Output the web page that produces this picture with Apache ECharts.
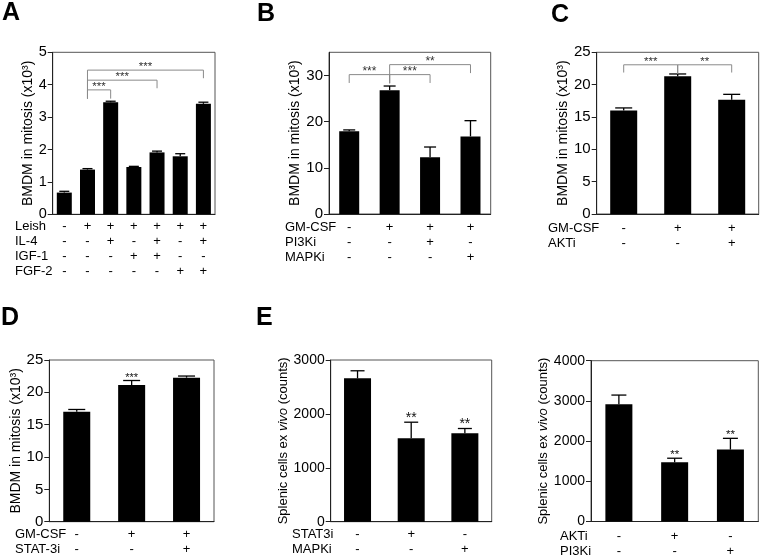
<!DOCTYPE html>
<html><head><meta charset="utf-8">
<script src="https://cdn.jsdelivr.net/npm/echarts@6/dist/echarts.min.js"></script>
<style>html,body{margin:0;padding:0;background:#fff}#c{width:760px;height:559px}</style>
</head><body><div id="c"></div>
<script>
// ---------- Panel A ----------
const rowsA = ['Leish', 'IL-4', 'IGF-1', 'FGF-2'];
const signsA = [
  ['-', '+', '+', '+', '+', '+', '+'],
  ['-', '-', '+', '-', '+', '-', '+'],
  ['-', '-', '-', '+', '+', '-', '-'],
  ['-', '-', '-', '-', '-', '+', '+']
];
const valuesA = [0.67, 1.38, 3.46, 1.46, 1.91, 1.79, 3.41];
const errorsA = [0.04, 0.03, 0.03, 0.02, 0.04, 0.08, 0.05];
const yTicksA = [0, 1, 2, 3, 4, 5];
const bracketsA = [[1, 2, 3.84, 3.57, 3.57], [1, 4, 4.14, 3.57, 3.89], [1, 6, 4.45, 3.57, 4.2]];
const bracketStarsA = ['***', '***', '***'];

// ---------- Panel B ----------
const rowsB = ['GM-CSF', 'PI3Ki', 'MAPKi'];
const signsB = [
  ['-', '+', '+', '+'],
  ['-', '-', '+', '-'],
  ['-', '-', '-', '+']
];
const valuesB = [17.9, 26.8, 12.3, 16.8];
const errorsB = [0.3, 0.9, 2.2, 3.4];
const yTicksB = [0, 10, 20, 30];
const yMaxB = 35;
const bracketsB = [[0, 1, 30.17, 28.36, 28.3], [1, 2, 30.17, 28.3, 28.36], [1, 3, 32.33, 28.3, 30.5]];
const bracketStarsB = ['***', '***', '**'];

// ---------- Panel C ----------
const rowsC = ['GM-CSF', 'AKTi'];
const signsC = [
  ['-', '+', '+'],
  ['-', '-', '+']
];
const valuesC = [16.0, 21.3, 17.65];
const errorsC = [0.4, 0.35, 0.85];
const yTicksC = [0, 5, 10, 15, 20, 25];
const bracketsC = [[0, 1, 23.07, 21.87, 21.67], [1, 2, 23.07, 21.67, 21.87]];
const bracketStarsC = ['***', '**'];

// ---------- Panel D ----------
const rowsD = ['GM-CSF', 'STAT-3i'];
const signsD = [
  ['-', '+', '+'],
  ['-', '-', '+']
];
const valuesD = [17.0, 21.13, 22.27];
const errorsD = [0.35, 0.7, 0.25];
const yTicksD = [0, 5, 10, 15, 20, 25];
const starsD = ['', '***', ''];

// ---------- Panel E (left) ----------
const rowsE1 = ['STAT3i', 'MAPKi'];
const signsE1 = [
  ['-', '+', '-'],
  ['-', '-', '+']
];
const valuesE1 = [2660, 1546, 1639];
const errorsE1 = [140, 300, 90];
const yTicksE1 = [0, 1000, 2000, 3000];
const starsE1 = ['', '**', '**'];

// ---------- Panel E (right) ----------
const rowsE2 = ['AKTi', 'PI3Ki'];
const signsE2 = [
  ['-', '+', '-'],
  ['-', '-', '+']
];
const valuesE2 = [2915, 1474, 1789];
const errorsE2 = [230, 100, 280];
const yTicksE2 = [0, 1000, 2000, 3000, 4000];
const starsE2 = ['', '**', '**'];

const nameBMDM = 'BMDM in mitosis (x10\u00B3)';
const nameSplenic = '{n|Splenic cells ex }{i|vivo}{n| (counts)}';

// ---------- layout (positions / styles) ----------
const FONT = '"Liberation Sans", Arial, Helvetica, sans-serif';
const panels = [
  { letter: 'A', lx: 2, ly: 13, grid: { left: 52.7, top: 52.3, width: 162.3, height: 162 },
    rows: rowsA, signs: signsA, values: valuesA, errors: errorsA, ticks: yTicksA,
    brackets: bracketsA, bracketStars: bracketStarsA, name: nameBMDM,
    barWidth: 15, cap: 10, nameGap: 15, nameSize: 14, tickSize: 14.5, rowX: 15, labelMargin: 5, starFont: 11.5 },
  { letter: 'B', lx: 257, ly: 14.5, grid: { left: 329, top: 52.3, width: 161.7, height: 161.7 },
    rows: rowsB, signs: signsB, values: valuesB, errors: errorsB, ticks: yTicksB, max: yMaxB,
    brackets: bracketsB, bracketStars: bracketStarsB, name: nameBMDM,
    barWidth: 20, cap: 12, nameGap: 25, nameSize: 14, tickSize: 15, rowX: 285, labelMargin: 6, starFont: 12 },
  { letter: 'C', lx: 551, ly: 15, grid: { left: 596.7, top: 52.3, width: 162, height: 161.7 },
    rows: rowsC, signs: signsC, values: valuesC, errors: errorsC, ticks: yTicksC,
    brackets: bracketsC, bracketStars: bracketStarsC, name: nameBMDM,
    barWidth: 27, cap: 17, nameGap: 25.5, nameSize: 14, tickSize: 15, rowX: 548, labelMargin: 6.5, starFont: 11.5 },
  { letter: 'D', lx: 1, ly: 318.5, grid: { left: 49.3, top: 360, width: 164.7, height: 161.7 },
    rows: rowsD, signs: signsD, values: valuesD, errors: errorsD, ticks: yTicksD,
    marks: starsD, name: nameBMDM,
    barWidth: 27, cap: 17, nameGap: 21.5, nameSize: 14, tickSize: 15, rowX: 15, labelMargin: 5.5, starFont: 11 },
  { letter: 'E', lx: 256, ly: 318.5, grid: { left: 330.7, top: 360, width: 161, height: 161.7 },
    rows: rowsE1, signs: signsE1, values: valuesE1, errors: errorsE1, ticks: yTicksE1,
    marks: starsE1, name: nameSplenic,
    barWidth: 27, cap: 14, nameGap: 28, nameSize: 13, tickSize: 14, rowX: 292, labelMargin: 5.5, starFont: 14 },
  { letter: '', grid: { left: 591, top: 360.7, width: 167.3, height: 161 },
    rows: rowsE2, signs: signsE2, values: valuesE2, errors: errorsE2, ticks: yTicksE2,
    marks: starsE2, name: nameSplenic,
    barWidth: 27, cap: 15, nameGap: 37, nameSize: 13, tickSize: 14, rowX: 560, labelMargin: 7.5, starFont: 11.5 }
];

const LH = 15;
const option = {
  animation: false,
  textStyle: { fontFamily: FONT },
  grid: [], xAxis: [], yAxis: [], series: [], graphic: []
};

panels.forEach((p, k) => {
  option.grid.push(Object.assign({ show: true, borderColor: '#555', borderWidth: 1, containLabel: false }, p.grid));
  const cats = p.values.map((v, j) => p.signs.map(r => r[j]).join('\n'));
  option.xAxis.push({
    type: 'category', gridIndex: k, data: cats,
    axisLine: { lineStyle: { color: '#222', width: 1 } },
    axisTick: { alignWithLabel: true, length: 4, lineStyle: { color: '#222' } },
    axisLabel: { interval: 0, color: '#000', fontSize: 13, lineHeight: LH, margin: p.labelMargin, fontFamily: FONT }
  });
  const t = p.ticks;
  option.yAxis.push({
    type: 'value', gridIndex: k, min: t[0], max: p.max !== undefined ? p.max : t[t.length - 1],
    interval: t[1] - t[0],
    splitLine: { show: false },
    axisLine: { show: true, lineStyle: { color: '#222', width: 1 } },
    axisTick: { show: true, length: 5, lineStyle: { color: '#222' } },
    axisLabel: { color: '#000', fontSize: p.tickSize, margin: 6, fontFamily: FONT,
      showMaxLabel: p.max === undefined, formatter: v => String(v) },
    name: p.name, nameLocation: 'middle', nameGap: p.nameGap,
    nameTextStyle: { color: '#000', fontSize: p.nameSize, fontFamily: FONT,
      rich: { n: { fontSize: p.nameSize, color: '#000', fontFamily: FONT }, i: { fontSize: p.nameSize, color: '#000', fontStyle: 'italic', fontFamily: FONT } } }
  });
  // bars
  option.series.push({
    type: 'bar', xAxisIndex: k, yAxisIndex: k, data: p.values, barWidth: p.barWidth,
    itemStyle: { color: '#000' }, z: 2
  });
  // error bars
  const cap = p.cap;
  option.series.push({
    type: 'custom', xAxisIndex: k, yAxisIndex: k, z: 3, clip: false,
    encode: { x: 0, y: 1 },
    data: p.values.map((v, i) => [i, v, p.errors[i]]),
    renderItem: function (params, api) {
      const p0 = api.coord([api.value(0), api.value(1)]);
      const p1 = api.coord([api.value(0), api.value(1) + api.value(2)]);
      return { type: 'group', children: [
        { type: 'line', shape: { x1: p0[0], y1: p0[1], x2: p0[0], y2: p1[1] }, style: { stroke: '#000', lineWidth: 1.3 } },
        { type: 'line', shape: { x1: p0[0] - cap / 2, y1: p1[1], x2: p0[0] + cap / 2, y2: p1[1] }, style: { stroke: '#000', lineWidth: 1.3 } }
      ] };
    }
  });
  // significance brackets
  if (p.brackets) {
    const labels = p.bracketStars, sf = p.starFont;
    option.series.push({
      type: 'custom', xAxisIndex: k, yAxisIndex: k, z: 4, clip: false,
      encode: { x: 0, y: 2 },
      data: p.brackets,
      renderItem: function (params, api) {
        const a = api.coord([api.value(0), api.value(2)]);
        const b = api.coord([api.value(1), api.value(2)]);
        const yl = api.coord([api.value(0), api.value(3)])[1];
        const yr = api.coord([api.value(1), api.value(4)])[1];
        return { type: 'group', children: [
          { type: 'polyline', shape: { points: [[a[0], yl], [a[0], a[1]], [b[0], b[1]], [b[0], yr]] },
            style: { stroke: '#8a8a8a', lineWidth: 1, fill: null } },
          { type: 'text', x: (a[0] + b[0]) / 2, y: a[1] + 3,
            style: { text: labels[params.dataIndex], font: sf + 'px ' + FONT, fill: '#333', align: 'center', verticalAlign: 'bottom' } }
        ] };
      }
    });
  }
  // star marks above single bars
  if (p.marks) {
    const marks = p.marks, sf = p.starFont;
    option.series.push({
      type: 'custom', xAxisIndex: k, yAxisIndex: k, z: 4, clip: false,
      encode: { x: 0, y: 1 },
      data: p.values.map((v, i) => [i, v + p.errors[i]]),
      renderItem: function (params, api) {
        const c = api.coord([api.value(0), api.value(1)]);
        return { type: 'text', x: c[0], y: c[1] + 3,
          style: { text: marks[params.dataIndex], font: sf + 'px ' + FONT, fill: '#111', align: 'center', verticalAlign: 'bottom' } };
      }
    });
  }
  // row names of the condition table
  const gb = p.grid.top + p.grid.height;
  p.rows.forEach((r, i) => {
    option.graphic.push({ type: 'text', x: p.rowX, y: gb + p.labelMargin + LH * (i + 0.5),
      style: { text: r, font: '13px ' + FONT, fill: '#000', align: 'left', verticalAlign: 'middle', textAlign: 'left', textVerticalAlign: 'middle' } });
  });
  if (p.letter) {
    option.graphic.push({ type: 'text', x: p.lx, y: p.ly,
      style: { text: p.letter, font: 'bold 25px ' + FONT, fill: '#000', align: 'left', verticalAlign: 'middle', textAlign: 'left', textVerticalAlign: 'middle' } });
  }
});

const chart = echarts.init(document.getElementById('c'), null, { renderer: 'canvas' });
chart.setOption(option);
</script>
</body></html>
